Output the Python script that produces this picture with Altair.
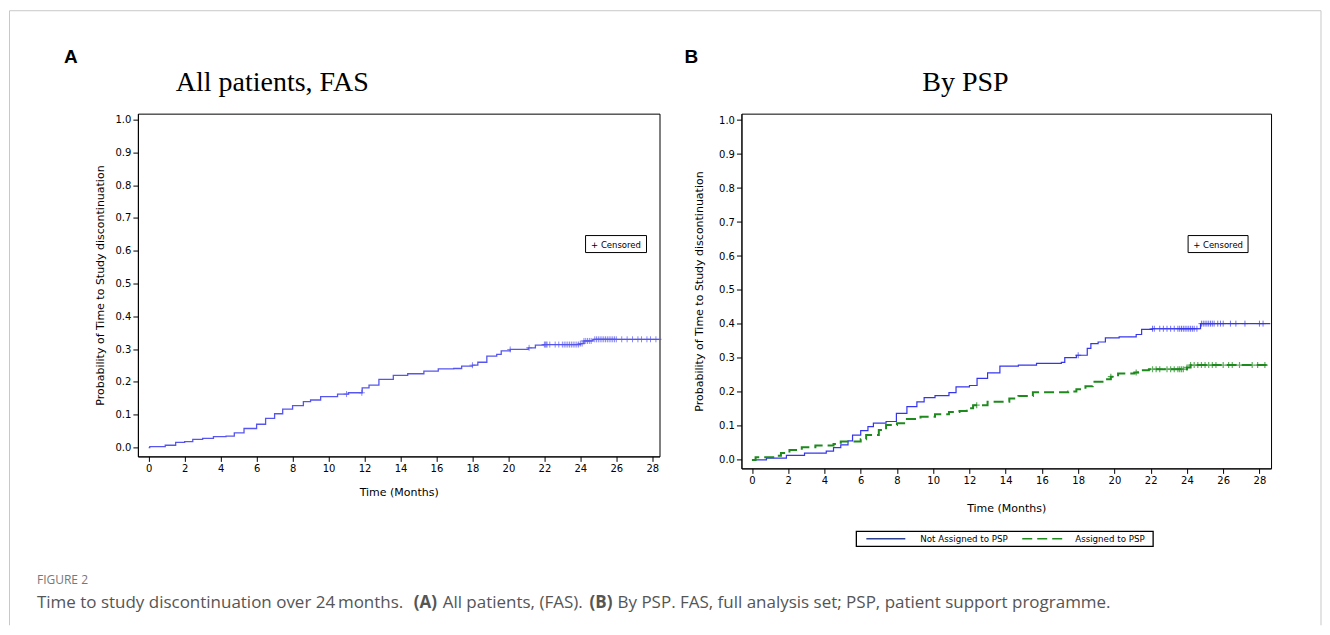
import altair as alt
import pandas as pd

# ---------------- data ----------------
# Panel A: all patients, FAS (cumulative probability of discontinuation)
a_time = [0, 0.06, 0.92, 1.5, 2.0, 2.45, 3.0, 3.6, 4.3, 4.76, 5.3, 6.0, 6.5, 7.0, 7.45, 8.0,
          8.6, 9.0, 9.56, 10.5, 11.1, 11.87, 12.25, 12.8, 13.6, 14.4, 15.3, 16.1, 16.96,
          17.4, 18.0, 18.3, 18.8, 19.35, 19.6, 20.1, 21.1, 21.5, 21.95, 24.0, 24.2, 24.7, 28.5]
a_prob = [0, 0.003, 0.007, 0.016, 0.018, 0.025, 0.028, 0.033, 0.035, 0.045, 0.058, 0.071,
          0.089, 0.103, 0.117, 0.128, 0.14, 0.145, 0.155, 0.163, 0.167, 0.182, 0.19, 0.208,
          0.22, 0.225, 0.233, 0.24, 0.241, 0.248, 0.251, 0.26, 0.279, 0.284, 0.295, 0.299,
          0.304, 0.312, 0.314, 0.317, 0.325, 0.33, 0.33]
a_cens = [11.0, 11.85, 18.0, 20.1, 21.15, 22.0, 22.05, 22.1, 22.15, 22.3, 22.6, 22.8, 23.0,
          23.1, 23.2, 23.3, 23.4, 23.5, 23.6, 23.7, 23.8, 23.9, 24.0, 24.1, 24.2, 24.3, 24.4,
          24.5, 24.6, 24.8, 24.9, 25.0, 25.1, 25.2, 25.3, 25.4, 25.5, 25.6, 25.7, 25.8, 25.9,
          26.0, 26.3, 26.6, 26.9, 27.2, 27.4, 27.7, 27.9, 28.2]

# Panel B: by PSP
groups = ["Not Assigned to PSP", "Assigned to PSP"]
b_not_time = [0, 0.08, 0.8, 1.9, 2.9, 4.1, 4.5, 4.9, 5.3, 5.55, 6.0, 6.4, 6.7, 7.4, 7.97,
              8.55, 9.1, 9.5, 10.1, 10.87, 11.26, 12.0, 12.42, 13.0, 13.68, 14.7, 15.7, 17.07,
              17.26, 17.9, 18.5, 18.7, 19.1, 19.5, 20.26, 21.2, 21.5, 22.1, 24.75, 28.6]
b_not_prob = [0, 0.0, 0.005, 0.013, 0.02, 0.026, 0.036, 0.044, 0.056, 0.073, 0.086, 0.098,
              0.108, 0.113, 0.137, 0.157, 0.171, 0.183, 0.189, 0.198, 0.215, 0.219, 0.24,
              0.256, 0.276, 0.279, 0.284, 0.287, 0.301, 0.308, 0.328, 0.342, 0.347, 0.359,
              0.362, 0.369, 0.384, 0.386, 0.401, 0.401]
b_not_cens = [18.0, 22.1, 22.2, 22.5, 22.7, 22.9, 23.1, 23.3, 23.5, 23.6, 23.7, 23.8, 23.9,
              24.0, 24.1, 24.2, 24.3, 24.4, 24.55, 24.8, 24.9, 25.0, 25.1, 25.2, 25.3, 25.4,
              25.5, 25.7, 25.85, 26.0, 26.4, 26.7, 27.2, 28.0, 28.2]
b_psp_time = [0, 0.08, 0.2, 1.4, 1.6, 2.07, 2.75, 3.5, 4.5, 4.9, 6.0, 6.3, 7.0, 7.4, 8.0,
              8.55, 9.3, 10.1, 10.87, 11.45, 11.85, 12.2, 13.0, 14.2, 14.7, 15.5, 17.45, 17.9,
              18.4, 18.8, 19.4, 19.8, 20.2, 21.1, 21.3, 21.9, 24.0, 24.2, 28.6]
b_psp_prob = [0, 0.0, 0.008, 0.012, 0.02, 0.029, 0.037, 0.042, 0.047, 0.054, 0.061, 0.073,
              0.088, 0.103, 0.108, 0.12, 0.127, 0.134, 0.141, 0.144, 0.152, 0.161, 0.171,
              0.181, 0.188, 0.199, 0.201, 0.208, 0.217, 0.23, 0.237, 0.245, 0.254, 0.257,
              0.264, 0.267, 0.272, 0.279, 0.279]
b_psp_cens = [12.4, 19.8, 21.2, 22.1, 22.3, 22.5, 22.9, 23.1, 23.3, 23.5, 23.6, 23.7, 23.8,
              24.0, 24.2, 24.4, 24.6, 24.8, 25.0, 25.2, 25.4, 25.6, 26.0, 26.3, 26.5, 26.9,
              27.6, 27.9, 28.3]

x_ticks = [0, 2, 4, 6, 8, 10, 12, 14, 16, 18, 20, 22, 24, 26, 28]
y_ticks = [0.0, 0.1, 0.2, 0.3, 0.4, 0.5, 0.6, 0.7, 0.8, 0.9, 1.0]

caption_parts = [
    ("Time to study discontinuation over 24\u2009months.", "normal"),
    ("(A)", "bold"),
    ("All patients, (FAS).", "normal"),
    ("(B)", "bold"),
    ("By PSP. FAS, full analysis set; PSP, patient support programme.", "normal"),
]

# ---------------- helpers ----------------
def step_at(ts, ps, t):
    v = ps[0]
    for tt, pp in zip(ts, ps):
        if tt <= t:
            v = pp
    return v

def censor_df(ts, ps, cens):
    return pd.DataFrame({"t": cens, "p": [step_at(ts, ps, c) for c in cens]})

ONE = pd.DataFrame({"k": [0]})

def txt(text, x, y, size, font, weight="normal", color="black", align="left",
        baseline="alphabetic"):
    return alt.Chart(ONE).mark_text(
        text=text, align=align, baseline=baseline, fontSize=size, font=font,
        fontWeight=weight, color=color
    ).encode(x=alt.value(x), y=alt.value(y))

def box(x1, x2, y1, y2, sw=1):
    return alt.Chart(ONE).mark_rect(fill="white", stroke="black", strokeWidth=sw).encode(
        x=alt.value(x1), x2=alt.value(x2), y=alt.value(y1), y2=alt.value(y2))

def seg(x1, x2, y, color, width, dash=None):
    kw = dict(color=color, strokeWidth=width)
    if dash:
        kw["strokeDash"] = dash
    return alt.Chart(ONE).mark_rule(**kw).encode(x=alt.value(x1), x2=alt.value(x2), y=alt.value(y))

AX = "DejaVu Sans"
PLUS = "M-1,0H1M0,-1V1"

def axes(xdom, ydom, xtp, ytp):
    x = alt.X("t:Q", scale=alt.Scale(domain=xdom, nice=False, zero=False),
              axis=alt.Axis(values=x_ticks, title="Time (Months)", titlePadding=xtp,
                            format="d", grid=False, labelOverlap=False))
    y = alt.Y("p:Q", scale=alt.Scale(domain=ydom, nice=False, zero=False),
              axis=alt.Axis(values=y_ticks, format=".1f", grid=False, labelOverlap=False,
                            title="Probability of Time to Study discontinuation",
                            titlePadding=ytp))
    return x, y

# ---------------- panel A ----------------
xA, yA = axes([-0.6, 28.4], [-0.027, 1.018], 13, 10)
blueA = "#5656ee"
dfA = pd.DataFrame({"t": a_time, "p": a_prob})
lineA = alt.Chart(dfA).mark_line(interpolate="step-after", color=blueA, strokeWidth=1.3).encode(x=xA, y=yA)
censA = alt.Chart(censor_df(a_time, a_prob, a_cens)).mark_point(
    shape=PLUS, size=36, filled=False, color=blueA, strokeWidth=1).encode(x=xA, y=yA)

# caption pieces (positions relative to panel A plot origin)
cap_x = [-101, 276, 305, 452, 480]
cap_layers = []
for (s, w), cx in zip(caption_parts, cap_x):
    cap_layers.append(txt(s, cx, 495, 17, "Open Sans", weight=w, color="#555555"))

frame_col = "#c8c8c8"
frame_top = alt.Chart(ONE).mark_rule(color=frame_col, strokeWidth=1).encode(
    x=alt.value(-128.5), x2=alt.value(1184), y=alt.value(-103))
frame_left = alt.Chart(ONE).mark_rule(color=frame_col, strokeWidth=1).encode(
    x=alt.value(-128.5), y=alt.value(-103), y2=alt.value(512))
frame_right = alt.Chart(ONE).mark_rule(color=frame_col, strokeWidth=1).encode(
    x=alt.value(1184), y=alt.value(-103), y2=alt.value(512))

panelA = alt.layer(
    lineA, censA,
    frame_top, frame_left, frame_right,
    box(448, 509, 122, 139),
    txt("+ Censored", 478.5, 131, 8.5, AX, align="center", baseline="middle"),
    txt("A", -74, -51, 19, "Liberation Sans", weight="bold"),
    txt("All patients, FAS", 38, -23, 28, "Liberation Serif"),
    txt("FIGURE 2", -101, 471, 12, "Open Sans", color="#777777"),
    *cap_layers,
).properties(width=522, height=343)

# ---------------- panel B ----------------
xB, yB = axes([-0.58, 28.64], [-0.025, 1.019], 17, 14)
blueB = "#3535ee"
greenB = "#1e8a1e"
dfB = pd.concat([
    pd.DataFrame({"t": b_not_time, "p": b_not_prob, "grp": groups[0]}),
    pd.DataFrame({"t": b_psp_time, "p": b_psp_prob, "grp": groups[1]}),
])
lineB = alt.Chart(dfB).mark_line(interpolate="step-after").encode(
    x=xB, y=yB,
    color=alt.Color("grp:N", scale=alt.Scale(domain=groups, range=[blueB, greenB]), legend=None),
    strokeDash=alt.StrokeDash("grp:N", scale=alt.Scale(domain=groups, range=[[1, 0], [10, 5]]),
                              legend=None),
    strokeWidth=alt.StrokeWidth("grp:N", scale=alt.Scale(domain=groups, range=[1.2, 2.0]),
                                legend=None),
)
censB1 = alt.Chart(censor_df(b_not_time, b_not_prob, b_not_cens)).mark_point(
    shape=PLUS, size=36, filled=False, color=blueB, strokeWidth=1).encode(x=xB, y=yB)
censB2 = alt.Chart(censor_df(b_psp_time, b_psp_prob, b_psp_cens)).mark_point(
    shape=PLUS, size=36, filled=False, color=greenB, strokeWidth=1.2).encode(x=xB, y=yB)

# bottom legend (drawn as a boxed key under the x-axis title)
legend_layers = [
    box(115, 412, 418, 433, sw=1.3),
    seg(125, 164, 425.5, "#2a3f8f", 1.5),
    txt(groups[0], 179, 425.5, 8.7, AX, baseline="middle"),
    seg(281, 322, 425.5, greenB, 1.5, dash=[10, 5]),
    txt(groups[1], 334, 425.5, 8.7, AX, baseline="middle"),
]

panelB = alt.layer(
    lineB, censB1, censB2,
    box(447, 507, 122, 139),
    txt("+ Censored", 477, 131, 8.5, AX, align="center", baseline="middle"),
    txt("B", -57, -51, 19, "Liberation Sans", weight="bold"),
    txt("By PSP", 181, -23, 28, "Liberation Serif"),
    *legend_layers,
).properties(width=530, height=355)

chart = alt.hconcat(panelA, panelB, spacing=82, bounds="flush").resolve_scale(
    color="independent", strokeDash="independent", strokeWidth="independent"
).properties(
    padding={"left": 0, "top": 1.5, "right": 0, "bottom": 0},
    background="white",
).configure_view(
    stroke="black", strokeWidth=1
).configure_axis(
    domainColor="black", tickColor="black", tickSize=5, grid=False,
    labelFont=AX, labelFontSize=10, labelColor="black", labelPadding=2,
    titleFont=AX, titleFontSize=11, titleFontWeight="normal", titleColor="black"
)

chart.save("out.html", embed_options={"renderer": "svg", "actions": False})
